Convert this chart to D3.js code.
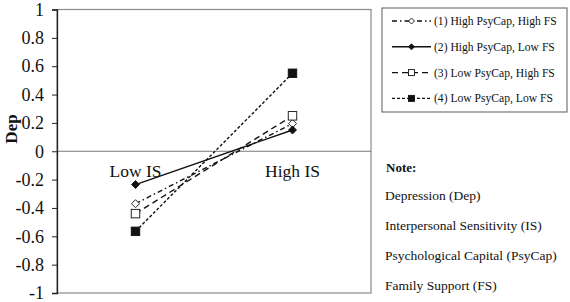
<!DOCTYPE html>
<html>
<head>
<meta charset="utf-8">
<script src="https://cdn.jsdelivr.net/npm/d3@7"></script>
<style>
  body { margin: 0; background: #fff; }
  svg text { font-family: "Liberation Serif", "Times New Roman", serif; fill: #111; }
</style>
</head>
<body>
<svg id="chart" width="570" height="302"></svg>
<script>
// categories on the x axis
const categories = ["Low IS", "High IS"];

// the four groups
const series_names = [
  "(1) High PsyCap, High FS",
  "(2) High PsyCap, Low FS",
  "(3) Low PsyCap, High FS",
  "(4) Low PsyCap, Low FS"
];

// Dep values, Low IS then High IS
const s1_values = [-0.37, 0.195];
const s2_values = [-0.235, 0.15];
const s3_values = [-0.44, 0.25];
const s4_values = [-0.565, 0.55];

const y_ticks = [1, 0.8, 0.6, 0.4, 0.2, 0, -0.2, -0.4, -0.6, -0.8, -1];

const note_lines = [
  "Depression (Dep)",
  "Interpersonal Sensitivity (IS)",
  "Psychological Capital (PsyCap)",
  "Family Support (FS)"
];

const all_series = [s1_values, s2_values, s3_values, s4_values];

// line look per series
const styles = [
  {dash: "5,3,1.5,3", marker: "diamond", filled: false},
  {dash: null, marker: "diamond", filled: true},
  {dash: "6,4", marker: "square", filled: false},
  {dash: "3,2", marker: "square", filled: true}
];

const svg = d3.select('#chart');

const plot_left = 57, plot_right = 371, plot_top = 9.5, plot_bottom = 293;

const x = d3.scalePoint().domain(categories).range([plot_left, plot_right]).padding(0.5);
const y = d3.scaleLinear().domain([-1, 1]).range([plot_bottom, plot_top]);

// plot frame
svg.append('rect')
  .attr('x', plot_left).attr('y', plot_top)
  .attr('width', plot_right - plot_left).attr('height', plot_bottom - plot_top)
  .attr('fill', 'none').attr('stroke', '#8a8a8a').attr('stroke-width', 1.2);

// zero line
svg.append('line')
  .attr('x1', plot_left).attr('x2', plot_right)
  .attr('y1', y(0)).attr('y2', y(0))
  .attr('stroke', '#777').attr('stroke-width', 1.2);

// y axis
const fmt = d => (d < 0 ? '-' : '') + d3.format('')(Math.abs(+d.toFixed(1)));
const yAxis = d3.axisLeft(y).tickValues(y_ticks).tickSize(5).tickPadding(8).tickFormat(fmt);
const gy = svg.append('g').attr('transform', `translate(${plot_left},0)`).call(yAxis);
gy.select('.domain').attr('stroke', '#222').attr('stroke-width', 1.3);
gy.selectAll('.tick line').attr('stroke', '#222');
gy.selectAll('.tick text')
  .style('font-family', '"Liberation Serif", "Times New Roman", serif')
  .style('font-size', '18px').attr('fill', '#111');

// y title
svg.append('text')
  .attr('transform', `translate(17,129) rotate(-90)`)
  .attr('text-anchor', 'middle')
  .style('font-size', '17px').style('font-weight', 'bold')
  .text('Dep');

// category labels under the zero line
svg.selectAll('.cat')
  .data(categories)
  .enter()
  .append('text')
  .attr('class', 'cat')
  .attr('x', d => x(d))
  .attr('y', y(0) + 26)
  .attr('text-anchor', 'middle')
  .style('font-size', '17.5px')
  .text(d => d);

function drawMarker(g, type, filled, cx, cy, size) {
  const fill = filled ? '#111' : '#fff';
  if (type === 'square') {
    g.append('rect')
      .attr('x', cx - size / 2).attr('y', cy - size / 2)
      .attr('width', size).attr('height', size)
      .attr('fill', fill).attr('stroke', '#111').attr('stroke-width', 0.9);
  } else {
    const r = size / 2;
    g.append('path')
      .attr('d', `M${cx},${cy - r}L${cx + r},${cy}L${cx},${cy + r}L${cx - r},${cy}Z`)
      .attr('fill', fill).attr('stroke', '#111').attr('stroke-width', 0.9);
  }
}

const line = d3.line().x((d, i) => x(categories[i])).y(d => y(d));

// lines first, then markers on top
all_series.forEach((vals, i) => {
  svg.append('path')
    .attr('d', line(vals))
    .attr('fill', 'none')
    .attr('stroke', '#111')
    .attr('stroke-width', 1.4)
    .attr('stroke-dasharray', styles[i].dash);
});
all_series.forEach((vals, i) => {
  const g = svg.append('g');
  vals.forEach((v, j) => {
    drawMarker(g, styles[i].marker, styles[i].filled, x(categories[j]), y(v), styles[i].marker === 'square' ? 8.5 : 8);
  });
});

// legend
const legend = svg.append('g');
legend.append('rect')
  .attr('x', 382).attr('y', 8).attr('width', 185).attr('height', 104)
  .attr('fill', '#fff').attr('stroke', '#777').attr('stroke-width', 1.2);

series_names.forEach((name, i) => {
  const ly = 21 + i * 25.8;
  legend.append('line')
    .attr('x1', 392).attr('x2', 431).attr('y1', ly).attr('y2', ly)
    .attr('stroke', '#111').attr('stroke-width', 1.4)
    .attr('stroke-dasharray', styles[i].dash);
  drawMarker(legend, styles[i].marker, styles[i].filled, 411.5, ly, 6);
  legend.append('text')
    .attr('x', 434).attr('y', ly + 4)
    .style('font-size', '11.6px')
    .text(name);
});

// note block
svg.append('text')
  .attr('x', 386).attr('y', 172)
  .style('font-size', '13px').style('font-weight', 'bold')
  .text('Note:');

svg.selectAll('.note')
  .data(note_lines)
  .enter()
  .append('text')
  .attr('class', 'note')
  .attr('x', 385)
  .attr('y', (d, i) => 200 + i * 30)
  .style('font-size', '13.5px')
  .text(d => d);
</script>
</body>
</html>
